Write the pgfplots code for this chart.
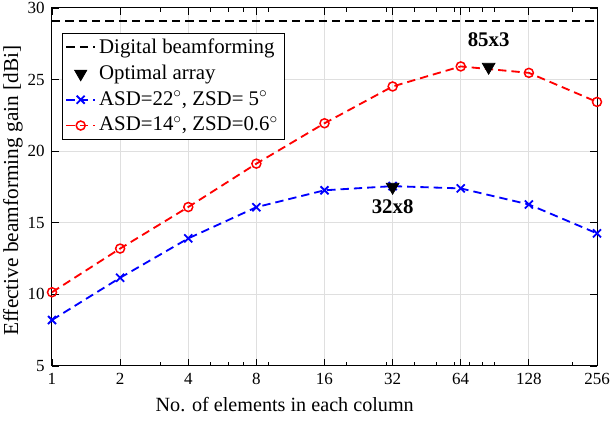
\documentclass[border=0pt]{standalone}
\usepackage{pgfplots}
\pgfplotsset{compat=1.18}
\usepackage{fontspec}
\setmainfont{Liberation Serif}
\begin{document}
\fontsize{12.5}{14}\selectfont
\begin{tikzpicture}
\begin{axis}[
  scale only axis, width=327pt, height=214.8pt,
  xmode=log,
  xmin=1, xmax=256, ymin=5, ymax=30,
  xtick={1,2,4,8,16,32,64,128,256},
  xticklabels={1,2,4,8,16,32,64,128,256},
  minor xtick={3,5,6,7,9,20,30,40,50,60,70,80,90,200},
  ytick={5,10,15,20,25,30},
  /pgf/number format/assume math mode=true,
  tick label style={font=\fontsize{10.2}{12}\selectfont},
  tick align=inside,
  major tick length=4pt, minor tick length=2.5pt,
  xmajorgrids, ymajorgrids,
  grid style={gray!25, line width=0.6pt},
  axis line style={line width=0.6pt},
  tick style={black, line width=0.5pt},
  xlabel={No. of elements in each column},
  ylabel={Effective beamforming gain [dBi]},
  xlabel style={at={(axis description cs:0.427,-0.109)}, anchor=center, font=\fontsize{12.1}{14}\selectfont},
  ylabel style={at={(axis description cs:-0.0716,0.49)}, anchor=center, font=\fontsize{12.8}{14}\selectfont},
  legend cell align=left,
  legend style={at={(axis description cs:0.018,0.93)}, anchor=north west,
    draw=black, line width=0.5pt, font=\fontsize{12.5}{14}\selectfont,
    row sep=1.2pt, inner xsep=2pt, inner ysep=1pt},
]
\addplot[black, line width=1.1pt, dash pattern=on 5pt off 3pt, forget plot]
  coordinates {(1,29.1) (256,29.1)};
\addlegendimage{black, line width=1.1pt, dash pattern=on 5pt off 3pt}
\addlegendentry{Digital beamforming}
\addlegendimage{only marks, black, mark=triangle*, mark size=4.2pt, mark options={rotate=180}}
\addlegendentry{Optimal array}
\addplot[blue, line width=1.1pt, dash pattern=on 5pt off 3pt, mark=x, mark size=3.4pt,
  mark options={solid, line width=1.1pt}]
  coordinates {(1,8.21) (2,11.16) (4,13.91) (8,16.09) (16,17.27) (32,17.56) (64,17.40) (128,16.28) (256,14.26)};
\addlegendentry{ASD=22$^\circ$, ZSD= 5$^\circ$}
\addplot[red, line width=1.1pt, dash pattern=on 5pt off 3pt, mark=o, mark size=2.7pt,
  mark options={solid, line width=0.9pt}]
  coordinates {(1,10.15) (2,13.2) (4,16.1) (8,19.13) (16,21.95) (32,24.52) (64,25.92) (128,25.47) (256,23.44)};
\addlegendentry{ASD=14$^\circ$, ZSD=0.6$^\circ$}
\addplot[only marks, black, mark=triangle*, mark size=4.4pt, mark options={rotate=180}, forget plot]
  coordinates {(32,17.5) (85,25.88)};
\node[font=\bfseries\fontsize{12.5}{14}\selectfont] at (axis cs:32,16.1) {32x8};
\node[font=\bfseries\fontsize{12.5}{14}\selectfont] at (axis cs:85,27.8) {85x3};
\end{axis}
\pgfresetboundingbox
\path[use as bounding box] (-31.2pt,-33.6pt) rectangle (334.8pt,219.6pt);
\end{tikzpicture}
\end{document}
